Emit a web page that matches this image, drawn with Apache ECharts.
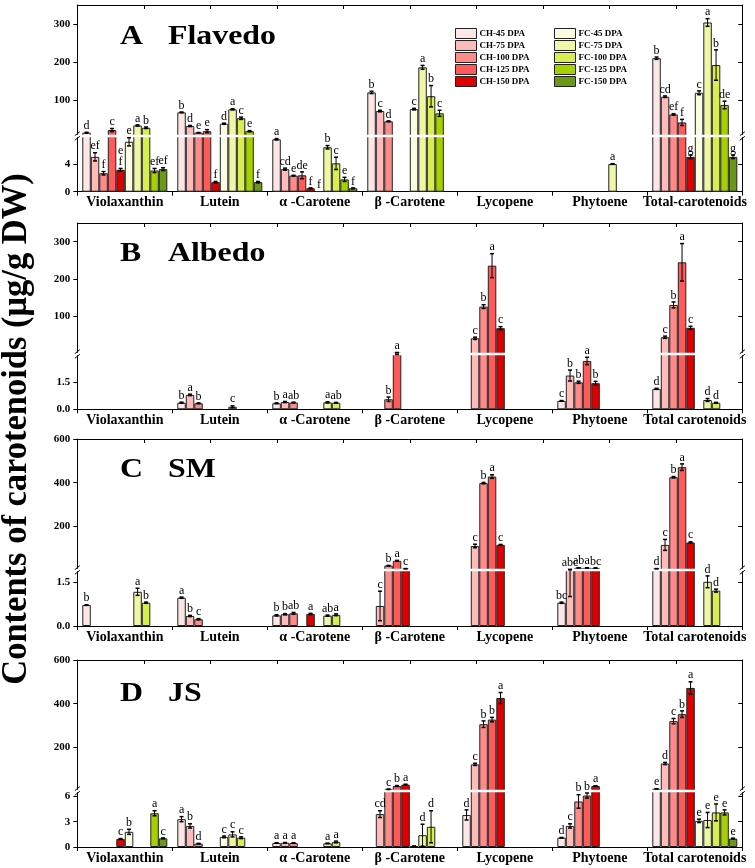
<!DOCTYPE html>
<html><head><meta charset="utf-8">
<script src="https://cdn.jsdelivr.net/npm/echarts@6/dist/echarts.min.js"></script>
<style>html,body{margin:0;padding:0;background:#fff}#c{width:755px;height:868px}</style>
</head><body><div id="c"></div>
<script>
// ---------- data ----------
const seriesNames = ['CH-45 DPA','CH-75 DPA','CH-100 DPA','CH-125 DPA','CH-150 DPA','FC-45 DPA','FC-75 DPA','FC-100 DPA','FC-125 DPA','FC-150 DPA'];
const categoriesA = ['Violaxanthin','Lutein','α -Carotene','β -Carotene','Lycopene','Phytoene','Total-carotenoids'];
const categoriesBCD = ['Violaxanthin','Lutein','α -Carotene','β -Carotene','Lycopene','Phytoene','Total carotenoids'];
const seriesColors = ['#FDE6E6','#FFBABA','#FF8A8A','#FF5A5A','#DE0000','#FAFDE2','#EDF7A6','#D6EE52','#A6D000','#6A9818'];

// A Flavedo  (rows = series, cols = categories)
const flavedoMean = [
  [14, 67.5, 7.67, 120, null, null, 210],
  [5.1, 31.6, 3.3, 71, null, null, 108.7],
  [2.7, 14, 2.35, 44, null, null, 62],
  [21, 18, 2.4, null, null, null, 41],
  [3.2, 1.4, 0.5, null, null, null, 5.1],
  [7.3, 37.6, 0.05, 76, null, null, 119],
  [33, 75.5, 6.5, 186, null, 4.05, 304],
  [27, 52, 4.15, 110, null, null, 192],
  [3.1, 18, 1.8, 65, null, null, 87],
  [3.3, 1.4, 0.5, null, null, null, 5.1]
];
const flavedoErr = [
  [1, 1, 0.1, 3, null, null, 3],
  [0.6, 1.5, 0.15, 2, null, null, 2],
  [0.25, 0.5, 0.05, 1, null, null, 2],
  [4, 4, 0.5, null, null, null, 8],
  [0.2, 0.1, 0.05, null, null, null, 0.25],
  [0.6, 1.5, 0, 2, null, null, 5],
  [1.5, 1.5, 0.25, 5, null, 0.05, 10],
  [2, 3, 0.9, 28, null, null, 40],
  [0.3, 1.5, 0.3, 8, null, null, 10],
  [0.2, 0.1, 0.05, null, null, null, 0.25]
];
const flavedoLetters = [
  ['d','b','a','b','','','b'],
  ['ef','d','cd','c','','','cd'],
  ['f','e','e','d','','','ef'],
  ['c','e','de','','','','f'],
  ['e\nf','f','f','','','','g'],
  ['e','d','f','c','','','c'],
  ['a','a','b','a','','a','a'],
  ['b','c','c','b','','','b'],
  ['ef','e','e','c','','','de'],
  ['ef','f','f','','','','g']
];

// B Albedo
const albedoMean = [
  [null, 0.36, 0.33, null, null, 0.46, 1.12],
  [null, 0.79, 0.4, null, 42, 1.85, 44.8],
  [null, 0.33, 0.37, 0.55, 126.7, 1.48, 131],
  [null, null, null, 3.5, 236, 2.65, 245],
  [null, null, null, null, 69, 1.43, 70],
  [null, null, null, null, null, null, null],
  [null, 0.14, 0.38, null, null, null, 0.51],
  [null, null, 0.36, null, null, null, 0.36],
  [null, null, null, null, null, null, null],
  [null, null, null, null, null, null, null]
];
const albedoErr = [
  [null, 0.03, 0.02, null, null, 0.02, 0.03],
  [null, 0.04, 0.03, null, 3, 0.3, 3],
  [null, 0.02, 0.02, 0.12, 5, 0.06, 8],
  [null, null, null, 0.5, 32, 0.2, 50],
  [null, null, null, null, 4, 0.1, 4],
  [null, null, null, null, null, null, null],
  [null, 0.05, 0.03, null, null, null, 0.08],
  [null, null, 0.02, null, null, null, 0.02],
  [null, null, null, null, null, null, null],
  [null, null, null, null, null, null, null]
];
const albedoLetters = [
  ['','b','b','','','c','d'],
  ['','a','a','','c','b','c'],
  ['','b','ab','b','b','b','b'],
  ['','','','a','a','a','a'],
  ['','','','','c','b','c'],
  ['','','','','','',''],
  ['','c','a','','','','d'],
  ['','','ab','','','','d'],
  ['','','','','','',''],
  ['','','','','','','']
];

// C SM
const smMean = [
  [0.71, 0.96, 0.36, null, null, 0.79, 6],
  [null, 0.34, 0.4, 0.68, 110, 2.0, 115],
  [null, 0.23, 0.43, 20, 398, 10, 425],
  [null, null, null, 42, 428, 10, 471],
  [null, null, 0.41, 6, 115, 9, 126],
  [null, null, null, null, null, null, null],
  [1.16, null, 0.35, null, null, null, 1.5],
  [0.79, null, 0.38, null, null, null, 1.2],
  [null, null, null, null, null, null, null],
  [null, null, null, null, null, null, null]
];
const smErr = [
  [0.01, 0.02, 0.02, null, null, 0.02, 0.5],
  [null, 0.02, 0.02, 0.5, 8, 1.0, 25],
  [null, 0.02, 0.03, 1, 3, 0.5, 3],
  [null, null, null, 2, 8, 0.5, 15],
  [null, null, 0.02, 0.5, 2, 0.5, 3],
  [null, null, null, null, null, null, null],
  [0.12, null, 0.02, null, null, null, 0.2],
  [0.02, null, 0.03, null, null, null, 0.05],
  [null, null, null, null, null, null, null],
  [null, null, null, null, null, null, null]
];
const smLetters = [
  ['b','a','b','','','bc','d'],
  ['','b','b','c','c','abc','c'],
  ['','c','ab','b','b','ab','b'],
  ['','','','a','a','a','a'],
  ['','','a','c','c','bc','c'],
  ['','','','','','',''],
  ['a','','ab','','','','d'],
  ['b','','a','','','','d'],
  ['','','','','','',''],
  ['','','','','','','']
];

// D JS
const jsMean = [
  [null, 3.3, 0.47, null, 3.8, 1.1, 10],
  [null, 2.5, 0.5, 3.9, 122, 2.5, 126],
  [null, 0.4, 0.47, 8, 306, 5.4, 320],
  [null, null, null, 23, 327, 6.1, 352],
  [0.95, null, null, 29, 426, 23, 472],
  [1.8, 1.2, null, 0.1, null, null, 3.1],
  [null, 1.5, 0.43, 1.4, null, null, 3.2],
  [null, 1.1, 0.6, 2.4, null, null, 4.1],
  [4.0, null, null, null, null, null, 4.1],
  [1.03, null, null, null, null, null, 1.0]
];
const jsErr = [
  [null, 0.3, 0.03, null, 0.6, 0.03, 0.5],
  [null, 0.25, 0.03, 0.4, 5, 0.25, 5],
  [null, 0.03, 0.03, 1, 15, 0.8, 12],
  [null, null, null, 2, 10, 0.3, 15],
  [0.05, null, null, 2, 25, 1, 28],
  [0.3, 0.1, null, 0.02, null, null, 0.2],
  [null, 0.3, 0.03, 1.3, null, null, 0.9],
  [null, 0.1, 0.1, 1.9, null, null, 1.0],
  [0.3, null, null, null, null, null, 0.3],
  [0.05, null, null, null, null, null, 0.05]
];
const jsLetters = [
  ['','a','a','','d','d','e'],
  ['','b','a','cd','c','c','d'],
  ['','d','a','c','b','b','c'],
  ['','','','b','b','b','b'],
  ['c','','','a','a','a','a'],
  ['b','c','','','','','e'],
  ['','c','a','d','','','e'],
  ['','c','a','d','','','e'],
  ['a','','','','','','e'],
  ['c','','','','','','e']
];

// tick labels
const flavedoUpperTicks = [100, 200, 300];
const flavedoLowerTicks = [0, 4];
const albedoUpperTicks = [100, 200, 300];
const albedoLowerTicks = [0, 1.5];
const smUpperTicks = [200, 400, 600];
const smLowerTicks = [0, 1.5];
const jsUpperTicks = [200, 400, 600];
const jsLowerTicks = [0, 3, 6];

// ---------- layout ----------
const SERIF = "'Liberation Serif','Times New Roman',serif";
const GL = 77.3, GW = 665, GAP = 0.105;
const panels = [
  {letter:'A', name:'Flavedo', mean:flavedoMean, err:flavedoErr, lab:flavedoLetters, cats:categoriesA,
   top:5, uh:131, lh:55.7, uMin:5.3, uMax:350, lMax:8.15, uT:flavedoUpperTicks, lT:flavedoLowerTicks, dec:0, ty:37},
  {letter:'B', name:'Albedo', mean:albedoMean, err:albedoErr, lab:albedoLetters, cats:categoriesBCD,
   top:223, uh:131, lh:55.3, uMin:0, uMax:350, lMax:3.03, uT:albedoUpperTicks, lT:albedoLowerTicks, dec:1, ty:254},
  {letter:'C', name:'SM', mean:smMean, err:smErr, lab:smLetters, cats:categoriesBCD,
   top:439, uh:131, lh:56, uMin:0, uMax:600, lMax:1.9, uT:smUpperTicks, lT:smLowerTicks, dec:1, ty:470},
  {letter:'D', name:'JS', mean:jsMean, err:jsErr, lab:jsLetters, cats:categoriesBCD,
   top:660, uh:131, lh:56, uMin:0, uMax:600, lMax:6.64, uT:jsUpperTicks, lT:jsLowerTicks, dec:0, ty:694}
];

const option = {animation:false, grid:[], xAxis:[], yAxis:[], series:[], graphic:[], legend:[]};
const black = {color:'#000', width:1};

function makeRender(p, upper) {
  const aMin = upper ? p.uMin : 0, aMax = upper ? p.uMax : p.lMax;
  return function (params, api) {
    const c = api.value(0), v = api.value(1), e = api.value(2), s = api.value(3);
    const inUpper = v > p.lMax;
    if (upper && !inUpper) return null;
    const band = api.size([1, 0])[0];
    const bw = band * (1 - GAP) / 10;
    const x = api.coord([c, aMin])[0] + (s - 4.5) * bw;
    const children = [];
    const top = v + e, bot = v - e;
    const tC = Math.min(top, aMax), bC = Math.max(bot, aMin);
    if (e > 0 && tC > bC) {
      const yT = api.coord([c, tC])[1], yB = api.coord([c, bC])[1];
      children.push({type:'line', shape:{x1:x, y1:yT, x2:x, y2:yB}, style:{stroke:'#000', lineWidth:1}});
      if (top <= aMax) children.push({type:'line', shape:{x1:x-2, y1:yT, x2:x+2, y2:yT}, style:{stroke:'#000', lineWidth:1.5}});
      if (bot >= aMin) children.push({type:'line', shape:{x1:x-2, y1:yB, x2:x+2, y2:yB}, style:{stroke:'#000', lineWidth:1.5}});
    }
    const showLabel = upper ? inUpper : !inUpper;
    const txt = p.lab[s][c];
    if (showLabel && txt) {
      const yl = api.coord([c, Math.max(Math.min(top, aMax), aMin)])[1] - 1;
      children.push({type:'text', x:x, y:yl, style:{text:txt, fill:'#000', font:'12px ' + SERIF, align:'center', verticalAlign:'bottom', lineHeight:11}});
    }
    return {type:'group', children:children};
  };
}

panels.forEach(function (p) {
  const gU = option.grid.length;
  option.grid.push({left:GL, top:p.top, width:GW, height:p.uh});
  const gL = option.grid.length;
  option.grid.push({left:GL, top:p.top + p.uh, width:GW, height:p.lh});

  const xU = option.xAxis.length;
  option.xAxis.push({type:'category', gridIndex:gU, data:p.cats, show:false});
  option.xAxis.push({type:'value', gridIndex:gU, position:'top', min:0, max:10, interval:1,
    axisLine:{show:true, onZero:false, lineStyle:black}, axisTick:{show:true, inside:true, length:4, lineStyle:black},
    axisLabel:{show:false}, splitLine:{show:false}});
  const xL = option.xAxis.length;
  option.xAxis.push({type:'category', gridIndex:gL, data:p.cats, position:'bottom',
    axisLine:{show:true, onZero:false, lineStyle:black}, axisTick:{show:true, length:4, lineStyle:black},
    axisLabel:{interval:0, color:'#000', fontFamily:SERIF, fontWeight:'bold', fontSize:14, margin:4}});

  const lblStyle = {color:'#000', fontFamily:SERIF, fontWeight:'bold', fontSize:11, margin:7};
  const yU = option.yAxis.length;
  option.yAxis.push({type:'value', gridIndex:gU, min:p.uMin, max:p.uMax,
    axisLine:{show:true, onZero:false, lineStyle:black}, axisTick:{show:true, length:4, customValues:p.uT, lineStyle:black},
    axisLabel:Object.assign({customValues:p.uT, formatter:function(v){return String(v);}}, lblStyle), splitLine:{show:false}});
  option.yAxis.push({type:'value', gridIndex:gU, position:'right', min:p.uMin, max:p.uMax,
    axisLine:{show:true, onZero:false, lineStyle:black}, axisTick:{show:true, inside:true, length:4, customValues:p.uT, lineStyle:black},
    axisLabel:{show:false}, splitLine:{show:false}});
  const yL = option.yAxis.length;
  option.yAxis.push({type:'value', gridIndex:gL, min:0, max:p.lMax,
    axisLine:{show:true, onZero:false, lineStyle:black}, axisTick:{show:true, length:4, customValues:p.lT, lineStyle:black},
    axisLabel:Object.assign({customValues:p.lT, formatter:function(v){return v.toFixed(p.dec);}}, lblStyle), splitLine:{show:false}});
  option.yAxis.push({type:'value', gridIndex:gL, position:'right', min:0, max:p.lMax,
    axisLine:{show:true, onZero:false, lineStyle:black}, axisTick:{show:true, inside:true, length:4, customValues:p.lT, lineStyle:black},
    axisLabel:{show:false}, splitLine:{show:false}});

  for (let s = 0; s < 10; s++) {
    const base = {type:'bar', name:seriesNames[s], barGap:'0%', barCategoryGap:(GAP*100)+'%', silent:true, z:2,
      itemStyle:{color:seriesColors[s], borderColor:'#222', borderWidth:1}};
    option.series.push(Object.assign({}, base, {xAxisIndex:xL, yAxisIndex:yL,
      data:p.mean[s].map(function(v){return v == null ? '-' : v;})}));
    option.series.push(Object.assign({}, base, {xAxisIndex:xU, yAxisIndex:yU,
      data:p.mean[s].map(function(v){return (v != null && v > p.lMax) ? v : '-';})}));
  }
  const eData = [];
  for (let s = 0; s < 10; s++) for (let c = 0; c < 7; c++) {
    const v = p.mean[s][c];
    if (v != null) eData.push([c, v, p.err[s][c] || 0, s]);
  }
  option.series.push({type:'custom', name:'err-lower', xAxisIndex:xL, yAxisIndex:yL, data:eData, silent:true, z:5,
    encode:{x:0, y:1}, renderItem:makeRender(p, false)});
  option.series.push({type:'custom', name:'err-upper', xAxisIndex:xU, yAxisIndex:yU, data:eData, silent:true, z:5,
    encode:{x:0, y:1}, renderItem:makeRender(p, true)});

  // titles
  option.graphic.push({type:'text', x:120, y:p.ty, scaleX:1.18, z:50,
    style:{text:p.letter, font:'bold 27px ' + SERIF, fill:'#000', align:'left', verticalAlign:'middle'}});
  option.graphic.push({type:'text', x:168, y:p.ty, scaleX:1.18, z:50,
    style:{text:p.name, font:'bold 27px ' + SERIF, fill:'#000', align:'left', verticalAlign:'middle'}});
  // axis break
  const by = p.top + p.uh;
  option.graphic.push({type:'rect', shape:{x:GL - 1, y:by - 1.3, width:GW + 2, height:2.6}, style:{fill:'#fff'}, z:3, silent:true});
  [GL, GL + GW].forEach(function (ax) {
    option.graphic.push({type:'line', shape:{x1:ax - 2.5, y1:by - 0.3, x2:ax + 2.5, y2:by - 4.3}, style:{stroke:'#000', lineWidth:1}, z:101});
    option.graphic.push({type:'line', shape:{x1:ax - 2.5, y1:by + 4.3, x2:ax + 2.5, y2:by + 0.3}, style:{stroke:'#000', lineWidth:1}, z:101});
  });
});

option.graphic.push({type:'text', x:17, y:429, rotation:Math.PI / 2, scaleY:1.05, z:50,
  style:{text:'Contents of carotenoids (μg/g DW)', font:'bold 34.5px ' + SERIF, fill:'#000', align:'center', verticalAlign:'middle'}});

const legendBase = {orient:'vertical', top:28, padding:0, itemWidth:21, itemHeight:10, itemGap:1, icon:'rect', selectedMode:false,
  textStyle:{fontFamily:SERIF, fontWeight:'bold', fontSize:9, color:'#000', padding:[0,0,0,-2]},
  itemStyle:{borderColor:'#222', borderWidth:1}};
option.legend.push(Object.assign({}, legendBase, {left:455, data:seriesNames.slice(0, 5)}));
option.legend.push(Object.assign({}, legendBase, {left:554, data:seriesNames.slice(5)}));

const chart = echarts.init(document.getElementById('c'), null, {renderer:'canvas'});
chart.setOption(option);
</script></body></html>
